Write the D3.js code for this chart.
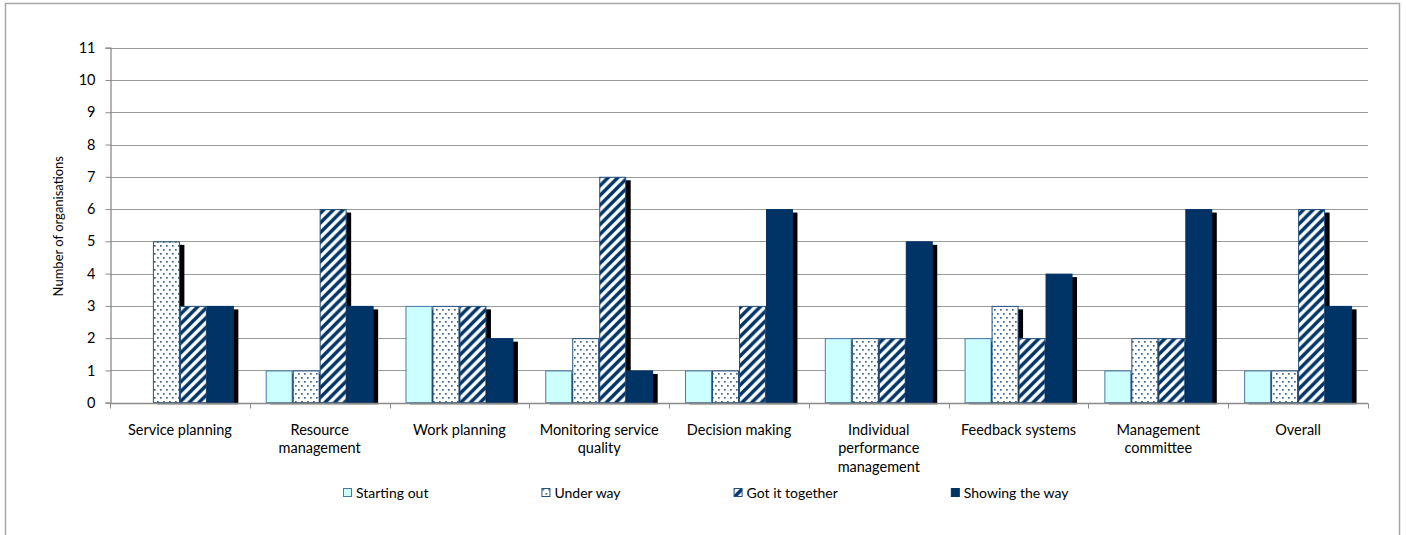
<!DOCTYPE html>
<html>
<head>
<meta charset="utf-8">
<script src="https://cdn.jsdelivr.net/npm/d3@7"></script>
<style>
  html, body { margin: 0; padding: 0; background: #fff; }
  svg { display: block; }
  text { font-family: Lato, "Open Sans", sans-serif; fill: #000; }
</style>
</head>
<body>
<svg id="chart" width="1406" height="535"></svg>
<script>
// Assessment areas (display lines for each category label)
const categories = [
  "Service planning",
  "Resource management",
  "Work planning",
  "Monitoring service quality",
  "Decision making",
  "Individual performance management",
  "Feedback systems",
  "Management committee",
  "Overall"
];
const categoryLines = [
  ["Service planning"],
  ["Resource", "management"],
  ["Work planning"],
  ["Monitoring service", "quality"],
  ["Decision making"],
  ["Individual", "performance", "management"],
  ["Feedback systems"],
  ["Management", "committee"],
  ["Overall"]
];

const seriesNames = ["Starting out", "Under way", "Got it together", "Showing the way"];

// Number of organisations at each stage, per category
const startingOut   = [0, 1, 3, 1, 1, 2, 2, 1, 1];
const underWay      = [5, 1, 3, 2, 1, 2, 3, 2, 1];
const gotItTogether = [3, 6, 3, 7, 3, 2, 2, 2, 6];
const showingTheWay = [3, 3, 2, 1, 6, 5, 4, 6, 3];
const seriesValues = [startingOut, underWay, gotItTogether, showingTheWay];

const yTicks = [0, 1, 2, 3, 4, 5, 6, 7, 8, 9, 10, 11];
const yTitle = "Number of organisations";

const svg = d3.select("#chart");
const plot = { left: 110, right: 1368, top: 47.7, bottom: 402.7 };

const defs = svg.append("defs");
const navy = "#003366";
const edge = "#234f7c";

// Dotted fill for "Under way"
const dots = defs.append("pattern").attr("id", "pat-dots")
  .attr("patternUnits", "userSpaceOnUse").attr("width", 6).attr("height", 8);
dots.append("rect").attr("width", 6).attr("height", 8).attr("fill", "#fff");
dots.append("rect").attr("x", 1).attr("y", 1).attr("width", 1.7).attr("height", 1.7).attr("fill", "#3d6590");
dots.append("rect").attr("x", 4).attr("y", 5).attr("width", 1.7).attr("height", 1.7).attr("fill", "#3d6590");

// Wide upward diagonal stripes for "Got it together"
const P = 9.7;
const stripes = defs.append("pattern").attr("id", "pat-stripes")
  .attr("patternUnits", "userSpaceOnUse").attr("width", P).attr("height", P);
stripes.append("rect").attr("width", P).attr("height", P).attr("fill", "#fff");
stripes.append("path")
  .attr("d", `M${-1},${P + 1} L${P + 1},${-1} M${-P / 2 - 1},${P / 2 + 1} L${P / 2 + 1},${-P / 2 - 1} M${P / 2 - 1},${1.5 * P + 1} L${1.5 * P + 1},${P / 2 - 1}`)
  .attr("stroke", navy).attr("stroke-width", 3.5).attr("fill", "none");

const fills = ["#ccffff", "url(#pat-dots)", "url(#pat-stripes)", navy];
const strokes = ["#4a78a6", edge, edge, navy];

// Outer chart frame
svg.append("rect")
  .attr("x", 5.5).attr("y", 3.5).attr("width", 1394).attr("height", 560)
  .attr("fill", "#fff").attr("stroke", "#a6a6a6").attr("stroke-width", 1.5);

const x0 = d3.scaleBand().domain(categories).range([plot.left, plot.right]).paddingInner(0).paddingOuter(0);
const x1 = d3.scaleBand().domain(seriesNames).range([0, x0.bandwidth()]).paddingInner(0).paddingOuter(0.59);
const y = d3.scaleLinear().domain([0, 11]).range([plot.bottom, plot.top]);

// Horizontal gridlines
svg.append("g").selectAll("line").data(yTicks.filter(d => d > 0)).join("line")
  .attr("x1", plot.left).attr("x2", plot.right)
  .attr("y1", d => Math.round(y(d)) + 0.5).attr("y2", d => Math.round(y(d)) + 0.5)
  .attr("stroke", "#9a9a9a").attr("stroke-width", 1.2);

// Y axis
const yAxis = d3.axisLeft(y).tickValues(yTicks).tickSize(5).tickPadding(10).tickFormat(d3.format("d"));
const gy = svg.append("g").attr("transform", `translate(${plot.left + 0.5},0)`).call(yAxis);
gy.select(".domain").attr("stroke", "#8a8a8a").attr("stroke-width", 1.3);
gy.selectAll(".tick line").attr("stroke", "#8a8a8a");
gy.selectAll(".tick text").attr("font-size", 14.5).attr("font-family", "Lato, sans-serif").attr("fill", "#000");

// Y axis title
svg.append("text")
  .attr("transform", `translate(63,${(plot.top + plot.bottom) / 2 + 1}) rotate(-90)`)
  .attr("text-anchor", "middle").attr("font-size", 13)
  .text(yTitle);

// Bars with drop shadows
const clip = defs.append("clipPath").attr("id", "plot-clip");
clip.append("rect").attr("x", plot.left).attr("y", 0).attr("width", plot.right - plot.left + 10).attr("height", plot.bottom + 1.5);

const barData = [];
categories.forEach((c, i) => {
  seriesNames.forEach((s, j) => {
    barData.push({ cat: c, series: s, j, value: seriesValues[j][i] });
  });
});
const shown = barData.filter(d => d.value > 0);

const sdx = 4.5, sdy = 3.5;
svg.append("g").attr("clip-path", "url(#plot-clip)")
  .selectAll("rect").data(shown).join("rect")
  .attr("x", d => x0(d.cat) + x1(d.series) + sdx)
  .attr("y", d => y(d.value) + sdy)
  .attr("width", x1.bandwidth())
  .attr("height", d => y(0) - y(d.value))
  .attr("fill", "#000");

svg.append("g").selectAll("rect").data(shown).join("rect")
  .attr("x", d => x0(d.cat) + x1(d.series) + 0.5)
  .attr("y", d => y(d.value) + 0.5)
  .attr("width", x1.bandwidth() - 1)
  .attr("height", d => y(0) - y(d.value) - 0.5)
  .attr("fill", d => fills[d.j])
  .attr("stroke", d => strokes[d.j])
  .attr("stroke-width", 1);

// X axis baseline and category tick marks
const gx = svg.append("g").attr("transform", `translate(0,${Math.round(plot.bottom) + 0.5})`);
gx.append("line").attr("x1", plot.left).attr("x2", plot.right).attr("stroke", "#8a8a8a").attr("stroke-width", 1.3);
const bounds = categories.map(c => x0(c)).concat([plot.right]);
gx.selectAll("line.tk").data(bounds).join("line").attr("class", "tk")
  .attr("x1", d => Math.round(d) + 0.5).attr("x2", d => Math.round(d) + 0.5)
  .attr("y1", 0).attr("y2", 5).attr("stroke", "#8a8a8a");

// Category labels
const lab = svg.append("g").selectAll("text").data(categories).join("text")
  .attr("text-anchor", "middle").attr("font-size", 14.5)
  .attr("x", c => x0(c) + x0.bandwidth() / 2)
  .attr("y", 434.5);
lab.each(function (c, i) {
  d3.select(this).selectAll("tspan").data(categoryLines[i]).join("tspan")
    .attr("x", x0(c) + x0.bandwidth() / 2)
    .attr("dy", (d, k) => k === 0 ? 0 : 18.7)
    .text(d => d);
});

// Legend
const legend = svg.append("g");
const items = legend.selectAll("g").data(seriesNames).join("g");
items.append("rect")
  .attr("x", 0.5).attr("y", 0.5).attr("width", 8).attr("height", 8)
  .attr("fill", (d, j) => fills[j]).attr("stroke", (d, j) => strokes[j]);
items.append("text")
  .attr("x", 13).attr("y", 9.5).attr("font-size", 14).text(d => d);
let lx = 343;
items.each(function () {
  const g = d3.select(this);
  g.attr("transform", `translate(${lx},488)`);
  const tw = g.select("text").node().getComputedTextLength();
  lx += 13 + tw + 113;
});
</script>
</body>
</html>
